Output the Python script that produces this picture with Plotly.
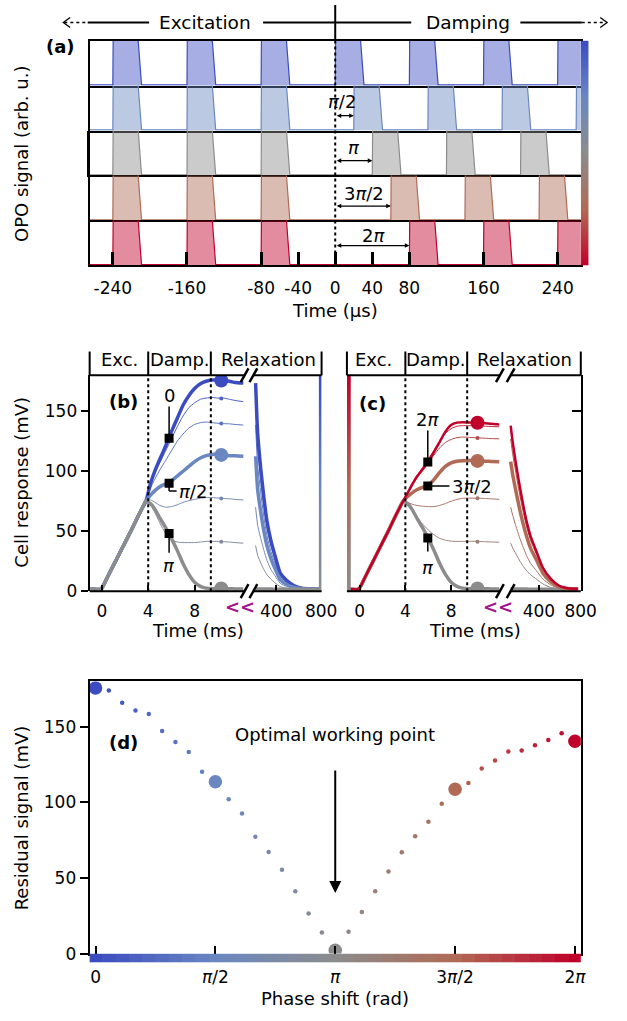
import math
import plotly.graph_objects as go
from plotly.colors import sample_colorscale, unlabel_rgb

W, H = 627, 1021
FONT = "DejaVu Sans"
FS = 18
TFS = 17

# ---------------- data ----------------
# panel (a): OPO pulse trains (times in microseconds)
a_exc_starts = [-240, -160, -80]
a_damp_starts = [[0, 80, 160, 240], [20, 100, 180, 260], [40, 120, 200], [60, 140, 220], [80, 160, 240]]
a_phase_idx = [0, 9, 18, 27, 36]
a_shift_us = [20, 40, 60, 80]
a_shift_lbl = ["<i>π</i>/2", "<i>π</i>", "3<i>π</i>/2", "2<i>π</i>"]
a_pulse_width = 31
a_ticks = [-240, -160, -80, -40, 0, 40, 80, 160, 240]

# panel (d): residual signal vs phase shift (10 degree steps)
phase_deg = list(range(0, 361, 10))
residual = [175.6, 173.9, 165.8, 160.7, 158.3, 147.1, 139.9, 133.3, 120.2, 113.6,
            102.0, 92.6, 77.3, 67.2, 55.4, 41.2, 26.5, 14.0, 2.2, 14.5,
            27.4, 41.2, 54.3, 67.0, 77.5, 87.1, 99.0, 108.6, 112.8, 122.4,
            127.7, 133.5, 134.2, 137.7, 141.2, 145.6, 140.4]

# panels (b),(c): cell response (mV)
t_exc = [-1.05, -0.5, -0.2, 0, 0.5, 1, 1.5, 2, 2.5, 3, 3.5, 3.8]
y_exc = [1.5, 1.5, 1.5, 2.5, 12, 21.5, 31, 40.5, 50, 60, 69.5, 75]
t_damp = [4.2, 4.6, 5, 5.5, 6, 6.5, 7, 7.5, 8, 8.5, 9, 9.5, 10, 10.5, 11, 11.5, 12.2]
b_t_rel = [215, 233, 261, 289, 317, 352, 387, 435, 491, 560, 630, 700, 790]
c_t_rel = [130, 150, 181, 212, 244, 283, 322, 377, 439, 517, 595, 674, 775]

b_idx = [0, 3, 6, 9, 12, 15, 18]
b_damp = [
    [90, 101, 110, 121, 133, 144, 155, 163, 169, 173, 175, 176, 176, 175.5, 175, 174, 173.5],
    [89, 99, 107, 117, 127, 137, 146, 153, 157, 160, 161, 161.5, 161, 161, 160, 159, 158],
    [86, 94, 101, 109, 117, 125, 131, 136, 139, 140.5, 141, 140.5, 140, 139.7, 139.5, 139, 138.5],
    [80, 84, 87, 89.5, 92, 96, 100, 104, 108, 111, 113, 114, 114, 113.6, 113, 113, 112.5],
    [76, 74, 71.5, 70, 70.5, 72, 74, 75.5, 76.5, 77.5, 78, 78, 77.7, 77.3, 77, 76.5, 76],
    [72, 65, 57, 48, 43, 41, 40.5, 40.5, 40.5, 41, 41.5, 41.5, 41.5, 41.2, 41, 40.5, 40],
    [73, 68, 61, 53, 44, 34, 23, 14, 7.5, 4, 2.5, 2, 2, 2, 2, 1.8, 1.8],
]
b_relax = [
    [173.5, 132, 102, 78, 58, 42, 30, 15, 9, 4.5, 2.5, 2, 1.8],
    [158, 120, 93, 71, 53, 38, 27, 13.5, 8, 4, 2.3, 2, 1.8],
    [138.5, 105, 82, 62, 46, 33, 23.5, 12, 7, 3.5, 2.2, 1.8, 1.7],
    [112.5, 85, 66, 50, 37.5, 27, 19, 9.5, 5.5, 3, 2, 1.7, 1.6],
    [70, 55, 44, 34, 25.5, 18, 13, 6.5, 4, 2.5, 1.8, 1.6, 1.5],
    [38, 30, 23.5, 18, 13.5, 10, 7, 3.8, 2.5, 1.8, 1.6, 1.5, 1.5],
    [1.8, 1.8, 1.8, 1.7, 1.7, 1.7, 1.6, 1.6, 1.5, 1.5, 1.5, 1.5, 1.5],
]
c_idx = [18, 21, 24, 27, 30, 33, 36]
c_damp = [
    [73, 68, 61, 53, 44, 34, 23, 14, 7.5, 4, 2.5, 2, 2, 2, 2, 1.8, 1.8],
    [72, 67, 62, 56, 51, 47, 44, 42.5, 41.7, 41.5, 41.5, 41.6, 41.6, 41.4, 41.2, 41, 40.8],
    [74, 72.5, 71.5, 70.8, 70.5, 70.5, 71.5, 73, 75, 76.5, 77.4, 77.6, 77.5, 77.5, 77.2, 77, 76.5],
    [79, 82, 84.5, 86.5, 88.5, 93, 99, 104, 107, 108.3, 108.8, 109, 108.8, 108.6, 108.4, 108.2, 108],
    [81, 88, 94, 100.5, 107, 113.5, 119.5, 124, 126.5, 128, 128.5, 128.3, 128, 127.7, 127.5, 127.2, 127],
    [82, 89.5, 96, 103, 110, 117.5, 125, 131.5, 135.5, 137.5, 138, 138, 137.8, 137.7, 137.5, 137.3, 137],
    [82, 89, 95.5, 101.5, 108, 116, 124.5, 133, 138.5, 140.5, 140.8, 140.6, 140.4, 140.4, 140, 139.5, 139],
]
c_relax = [
    [1.8, 1.8, 1.8, 1.7, 1.7, 1.7, 1.6, 1.6, 1.5, 1.5, 1.5, 1.5, 1.5],
    [40, 36, 31, 26, 21.5, 17, 13.5, 10, 6, 3, 2, 1.8, 1.7],
    [70, 63, 54, 45.5, 38, 29.5, 23, 17, 10, 5, 2.5, 2, 1.8],
    [108, 97, 83, 70, 58, 45.5, 35.5, 26, 15, 7.5, 3.5, 2.2, 1.9],
    [127, 114, 98, 82.5, 68.5, 53.5, 42, 30.5, 18, 9, 4, 2.3, 2],
    [136.5, 123, 105, 89, 74, 57.5, 45, 32.5, 19.3, 10, 4.5, 2.5, 2],
    [138, 124, 106, 90, 74.5, 58, 45.5, 33, 19.5, 10, 4.5, 2.5, 2],
]
thick_idx = [0, 9, 18, 27, 36]
t_dot = 10.3
t_marker = 5.8

# ---------------- helpers ----------------
def px(x):
    return x / W

def py(y):
    return 1 - y / H

CSCALE = [[0.0, '#3b4cc0'], [0.25, '#6a87c2'], [0.5, '#8c8c8c'], [0.75, '#b06a55'], [1.0, '#c0002a']]

def col(idx, a=1.0):
    c = sample_colorscale(CSCALE, [idx / 36])[0]
    r, g, b = unlabel_rgb(c)
    return f"rgba({int(r)},{int(g)},{int(b)},{a})"

fig = go.Figure()
layout = {}
shapes = []
ann = []

def text(x, y, s, size=FS, xanchor="center", color="black", angle=0, bold=False):
    if bold:
        s = f"<b>{s}</b>"
    ann.append(dict(x=px(x), y=py(y), xref="paper", yref="paper", text=s, showarrow=False,
                    xanchor=xanchor, yanchor="middle", textangle=angle,
                    font=dict(family=FONT, size=size, color=color)))

def pline(x0, y0, x1, y1, w=2, dash="solid", color="black"):
    shapes.append(dict(type="line", xref="paper", yref="paper", x0=px(x0), y0=py(y0),
                       x1=px(x1), y1=py(y1), line=dict(color=color, width=w, dash=dash)))

def ax_name(kind, n):
    return kind if n == 1 else f"{kind}{n}"

# ---------------- panel (a) ----------------
strip_top = 41
strip_h = 45.4
for k in range(5):
    n = k + 1
    top = strip_top + strip_h * k
    bot = top + strip_h
    xs, ys = [-265], [0.015]
    for s in a_exc_starts + a_damp_starts[k]:
        xs += [s, s + 0.4, s + a_pulse_width - 4, s + a_pulse_width, s + a_pulse_width + 0.5]
        ys += [0.015, 1.1, 1.1, 0.015, 0.015]
    xs.append(265)
    ys.append(0.015)
    idx = a_phase_idx[k]
    fig.add_trace(go.Scatter(x=xs, y=ys, mode="lines", fill="tozeroy",
                             fillcolor=col(idx, 0.45), line=dict(color=col(idx), width=1.2),
                             xaxis=ax_name("x", n), yaxis=ax_name("y", n), showlegend=False,
                             hoverinfo="skip"))
    bottom = (k == 4)
    layout[ax_name("xaxis", n)] = dict(
        domain=[px(92), px(596)], range=[-265, 265], anchor=ax_name("y", n),
        showline=True, mirror=(k == 0), linecolor="black", linewidth=2,
        showgrid=False, zeroline=False,
        ticks="inside" if bottom else "", ticklen=13, tickwidth=3, tickcolor="black",
        tickvals=a_ticks, ticktext=[str(v) for v in a_ticks],
        showticklabels=bottom, tickfont=dict(family=FONT, size=TFS), tickangle=0,
        ticklabelstandoff=6)
    layout[ax_name("yaxis", n)] = dict(
        domain=[py(bot), py(top)], range=[0, 1], anchor=ax_name("x", n),
        showline=True, mirror=True, linecolor="black", linewidth=2 if k != 2 else 3,
        showgrid=False, zeroline=False, ticks="", showticklabels=False)

# arrows for phase shifts
arrow_y = [0.33, 0.33, 0.32, 0.44]
lbl_y = [0.64, 0.62, 0.6, 0.66]
lbl_x = [7, 20, 31, 41]
for j in range(4):
    n = j + 2
    ann.append(dict(x=a_shift_us[j], y=arrow_y[j], ax=0, ay=arrow_y[j],
                    xref=ax_name("x", n), yref=ax_name("y", n),
                    axref=ax_name("x", n), ayref=ax_name("y", n),
                    text="", showarrow=True, arrowside="end+start", arrowhead=2, startarrowhead=2,
                    arrowsize=0.7, startarrowsize=0.7, arrowwidth=1.3, arrowcolor="black",
                    standoff=0, startstandoff=0))
    ann.append(dict(x=lbl_x[j], y=lbl_y[j], xref=ax_name("x", n), yref=ax_name("y", n),
                    text=a_shift_lbl[j], showarrow=False, xanchor="center", yanchor="middle",
                    font=dict(family=FONT, size=FS, color="black")))

# dotted line at t=0 and header vertical
shapes.append(dict(type="line", xref="x5", yref="paper", x0=0, x1=0, y0=py(268), y1=py(41),
                   line=dict(color="black", width=2, dash="dot")))
shapes.append(dict(type="line", xref="x5", yref="paper", x0=0, x1=0, y0=py(5), y1=py(41),
                   line=dict(color="black", width=2)))

# colorbar (a)
fig.add_trace(go.Heatmap(z=[[d] for d in phase_deg], y=phase_deg, x=[0], colorscale=CSCALE,
                         zmin=0, zmax=360, showscale=False, zsmooth="best",
                         xaxis="x6", yaxis="y6", hoverinfo="skip"))
layout["xaxis6"] = dict(domain=[px(596), px(604)], anchor="y6", visible=False, range=[-0.5, 0.5])
layout["yaxis6"] = dict(domain=[py(268), py(41)], anchor="x6", visible=False, range=[360, 0])

# header of (a)
hy = 22.7
pline(66, hy, 90, hy, w=1.5, dash="dot")
shapes.append(dict(type="path", xref="paper", yref="paper",
                   path=f"M {px(72)} {py(hy - 5)} L {px(65)} {py(hy)} L {px(72)} {py(hy + 5)}",
                   line=dict(color="black", width=1.3)))
pline(90, hy, 153, hy, w=2)
text(210, hy, "Excitation", size=18.5)
pline(270, hy, 422, hy, w=2)
text(480, hy, "Damping", size=18.5)
pline(534, hy, 597, hy, w=2)
pline(597, hy, 621, hy, w=1.5, dash="dot")
shapes.append(dict(type="path", xref="paper", yref="paper",
                   path=f"M {px(616)} {py(hy - 5)} L {px(623)} {py(hy)} L {px(616)} {py(hy + 5)}",
                   line=dict(color="black", width=1.3)))
text(62, 47, "(a)", bold=True)
text(22, 155, "OPO signal (arb. u.)", angle=-90)
text(344, 314, "Time (µs)")

# ---------------- panels (b) and (c) ----------------
def cell_panel(idx_list, damp, t_rel, relax, xl, xr, yax, cbar_ax, cbar_vals, cbar_x):
    order = [i for i in range(len(idx_list)) if idx_list[i] not in thick_idx] + \
            [i for i in range(len(idx_list)) if idx_list[i] in thick_idx]
    for i in order:
        idx = idx_list[i]
        thick = idx in thick_idx
        w = 3.5 if thick else 1.0
        if idx == 36:
            w = 2.5
        c = col(idx)
        fig.add_trace(go.Scatter(x=t_exc + t_damp, y=y_exc + damp[i], mode="lines",
                                 line=dict(color=c, width=w, shape="spline", smoothing=0.5),
                                 xaxis=xl, yaxis=yax, showlegend=False, hoverinfo="skip"))
        fig.add_trace(go.Scatter(x=t_rel, y=relax[i], mode="lines",
                                 line=dict(color=c, width=w, shape="spline", smoothing=0.5),
                                 xaxis=xr, yaxis=yax, showlegend=False, hoverinfo="skip"))
        fig.add_trace(go.Scatter(x=[t_dot], y=[residual[idx]], mode="markers",
                                 marker=dict(color=c, size=14 if thick else 4, opacity=1),
                                 xaxis=xl, yaxis=yax, showlegend=False, hoverinfo="skip"))
    fig.add_trace(go.Heatmap(z=[[d] for d in cbar_vals], y=cbar_vals, x=[0], colorscale=CSCALE,
                             zmin=0, zmax=360, showscale=False, zsmooth="best",
                             xaxis="x" + cbar_ax, yaxis="y" + cbar_ax, hoverinfo="skip"))
    layout["xaxis" + cbar_ax] = dict(domain=[px(cbar_x[0]), px(cbar_x[1])], anchor="y" + cbar_ax,
                                     visible=False, range=[-0.5, 0.5])
    layout["yaxis" + cbar_ax] = dict(domain=[py(597), py(379)], anchor="x" + cbar_ax,
                                     visible=False, range=[cbar_vals[-1], cbar_vals[0]])

tick_common = dict(showgrid=False, zeroline=False, ticks="inside", ticklen=6, tickwidth=1.5,
                   tickcolor="black", showline=False, tickfont=dict(family=FONT, size=TFS),
                   ticklabelstandoff=8, tickangle=0)

# (b)
cell_panel(b_idx, b_damp, b_t_rel, b_relax, "x7", "x8", "y7", "9", list(range(0, 181, 10)), (327, 330))
layout["xaxis7"] = dict(domain=[px(92), px(251)], range=[-1.05, 12.31], anchor="y7",
                        tickvals=[0, 4, 8], **tick_common)
layout["xaxis8"] = dict(domain=[px(260), px(330)], range=[195, 804], anchor="y7",
                        tickvals=[400, 800], **tick_common)
layout["yaxis7"] = dict(domain=[py(597), py(379)], range=[0, 180], anchor="x7",
                        showline=True, linecolor="black", linewidth=2, showgrid=False,
                        zeroline=False, ticks="outside", ticklen=7, tickwidth=1.5,
                        tickcolor="black", tickvals=[0, 50, 100, 150],
                        tickfont=dict(family=FONT, size=TFS))
# (c)
cell_panel(c_idx, c_damp, c_t_rel, c_relax, "x10", "x11", "y10", "12", list(range(360, 179, -10)), (356, 360))
layout["xaxis10"] = dict(domain=[px(356), px(515)], range=[-1.106, 12.43], anchor="y10",
                         tickvals=[0, 4, 8], **tick_common)
layout["xaxis11"] = dict(domain=[px(522), px(596)], range=[111, 801], anchor="y10",
                         tickvals=[400, 800], **tick_common)
layout["yaxis10"] = dict(domain=[py(597), py(379)], range=[0, 180], anchor="x11", side="right",
                         showline=True, linecolor="black", linewidth=2, showgrid=False,
                         zeroline=False, ticks="inside", ticklen=9, tickwidth=1.5,
                         tickcolor="black", tickvals=[0, 50, 100, 150], showticklabels=False)

def frame_bc(x0, brk0, brk1, x1, xl):
    for y in (379, 597):
        pline(x0, y, brk0, y, w=2)
        pline(brk1, y, x1, y, w=2)
        for bx in (brk0, brk1):
            pline(bx - 4, y + 7, bx + 4, y - 7, w=2.5)
    for xx in (x0, x1):
        pline(xx, 355, xx, 379, w=2)
    for tt in (4, 9.4):
        shapes.append(dict(type="line", xref=xl, yref="paper", x0=tt, x1=tt, y0=py(355), y1=py(379),
                           line=dict(color="black", width=2)))
        shapes.append(dict(type="line", xref=xl, yref="paper", x0=tt, x1=tt, y0=py(597), y1=py(379),
                           line=dict(color="black", width=2, dash="dot")))

frame_bc(92, 251, 260, 330, "x7")
frame_bc(356, 513, 524, 596, "x10")

def leader(xl, yl, pts):
    for (a, b), (c, d) in zip(pts[:-1], pts[1:]):
        shapes.append(dict(type="line", xref=xl, yref=yl, x0=a, y0=b, x1=c, y1=d,
                           line=dict(color="black", width=1.5)))

def square(xl, yl, x, y):
    fig.add_trace(go.Scatter(x=[x], y=[y], mode="markers",
                             marker=dict(symbol="square", size=9, color="black", opacity=1),
                             xaxis=xl, yaxis=yl, showlegend=False, hoverinfo="skip"))

def dtext(xl, yl, x, y, s, xanchor="center"):
    ann.append(dict(x=x, y=y, xref=xl, yref=yl, text=s, showarrow=False, xanchor=xanchor,
                    yanchor="middle", font=dict(family=FONT, size=FS, color="black")))

# (b) labels
leader("x7", "y7", [(t_marker, 127.5), (t_marker, 154)])
square("x7", "y7", t_marker, 127.5)
dtext("x7", "y7", t_marker, 163, "0")
leader("x7", "y7", [(t_marker, 90), (t_marker, 83.5), (6.45, 83.5)])
square("x7", "y7", t_marker, 90)
dtext("x7", "y7", 6.5, 83.5, "<i>π</i>/2", xanchor="left")
leader("x7", "y7", [(t_marker, 48), (t_marker, 32)])
square("x7", "y7", t_marker, 48)
dtext("x7", "y7", t_marker, 21, "<i>π</i>")
# (c) labels
leader("x10", "y10", [(5.96, 107.7), (5.96, 134)])
square("x10", "y10", 5.96, 107.7)
dtext("x10", "y10", 5.96, 143.5, "2<i>π</i>")
leader("x10", "y10", [(5.96, 87.6), (7.85, 87.6)])
square("x10", "y10", 5.96, 87.6)
dtext("x10", "y10", 7.9, 87.6, "3<i>π</i>/2", xanchor="left")
leader("x10", "y10", [(5.96, 44.4), (5.96, 33)])
square("x10", "y10", 5.96, 44.4)
dtext("x10", "y10", 5.96, 20, "<i>π</i>")

text(123, 363, "Exc.")
text(185, 363, "Damp.")
text(276, 363, "Relaxation")
text(383, 363, "Exc.")
text(447, 363, "Damp.")
text(538, 363, "Relaxation")
text(127, 405, "(b)", bold=True)
text(382, 407, "(c)", bold=True)
text(22, 487, "Cell response (mV)", angle=-90)
text(203, 637, "Time (ms)")
text(487, 637, "Time (ms)")
text(246, 613, "<b>&lt;&lt;</b>", color="#a0148c")
text(511, 613, "<b>&lt;&lt;</b>", color="#a0148c")

# ---------------- panel (d) ----------------
phase_rad = [d * math.pi / 180 for d in phase_deg]
fig.add_trace(go.Scatter(x=phase_rad, y=residual, mode="markers",
                         marker=dict(color=[col(i) for i in range(len(phase_deg))],
                                     size=[13.5 if i in thick_idx else 4.5 for i in range(len(phase_deg))],
                                     opacity=1, line=dict(width=0)),
                         xaxis="x13", yaxis="y13", showlegend=False, hoverinfo="skip"))
d_ticks = [0, math.pi / 2, math.pi, 3 * math.pi / 2, 2 * math.pi]
d_ticktext = ["0", "<i>π</i>/2", "<i>π</i>", "3<i>π</i>/2", "2<i>π</i>"]
layout["xaxis13"] = dict(domain=[px(92), px(596)], range=[-0.077, 6.36], anchor="y13",
                         showline=True, mirror=True, linecolor="black", linewidth=2,
                         showgrid=False, zeroline=False, ticks="inside", ticklen=8, tickwidth=2,
                         tickcolor="black", tickvals=d_ticks, showticklabels=False)
layout["yaxis13"] = dict(domain=[py(963), py(688)], range=[0, 180], anchor="x13",
                         showline=True, mirror=True, linecolor="black", linewidth=2,
                         showgrid=False, zeroline=False, ticks="outside", ticklen=8, tickwidth=1.5,
                         tickcolor="black", tickvals=[0, 50, 100, 150],
                         tickfont=dict(family=FONT, size=TFS))
fig.add_trace(go.Heatmap(z=[phase_deg], x=phase_rad, y=[0], colorscale=CSCALE, zmin=0, zmax=360,
                         showscale=False, xaxis="x14", yaxis="y14", hoverinfo="skip"))
layout["xaxis14"] = dict(domain=[px(92), px(596)], range=[-0.077, 6.36], anchor="y14",
                         showline=False, showgrid=False, zeroline=False, ticks="",
                         tickvals=d_ticks, ticktext=d_ticktext, tickangle=0,
                         ticklabelstandoff=3, tickfont=dict(family=FONT, size=TFS))
layout["yaxis14"] = dict(domain=[py(972), py(963)], range=[-0.5, 0.5], anchor="x14", visible=False)

ann.append(dict(x=math.pi, y=40, ax=math.pi, ay=122, xref="x13", yref="y13", axref="x13", ayref="y13",
                text="", showarrow=True, arrowhead=2, arrowsize=1.2, arrowwidth=2, arrowcolor="black",
                standoff=0))
text(127, 750, "(d)", bold=True)
text(344, 742, "Optimal working point")
text(22, 826, "Residual signal (mV)", angle=-90)
text(344, 1008, "Phase shift (rad)")

fig.update_layout(width=W, height=H, margin=dict(l=0, r=0, t=0, b=0, pad=0),
                  paper_bgcolor="white", plot_bgcolor="rgba(0,0,0,0)",
                  font=dict(family=FONT, size=FS, color="black"),
                  showlegend=False, shapes=shapes, annotations=ann, **layout)
fig.write_html("out.html")
